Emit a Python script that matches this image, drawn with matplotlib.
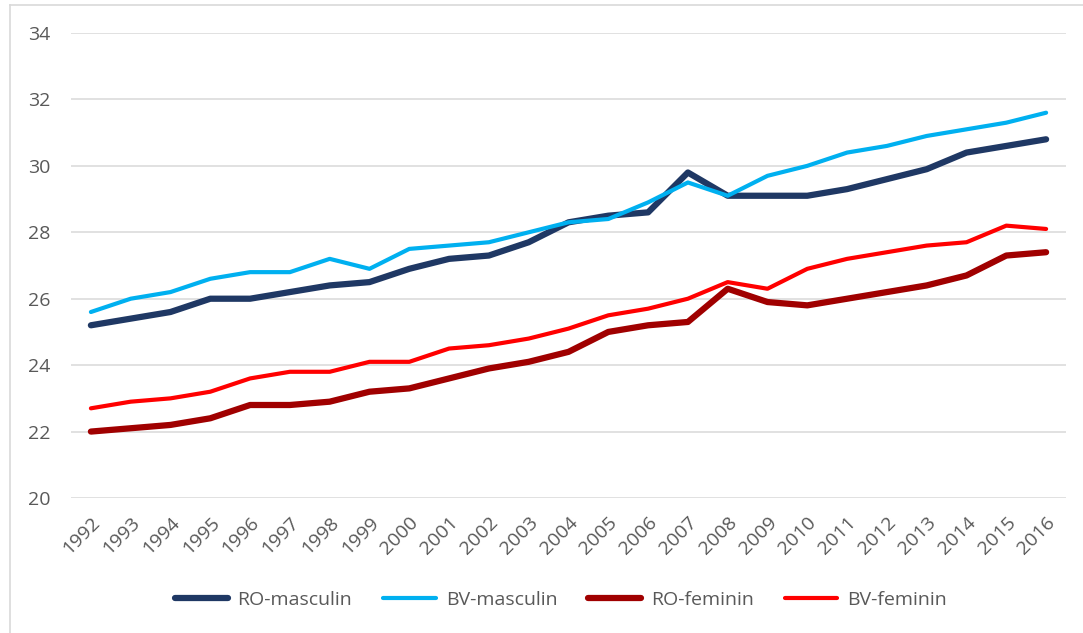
import matplotlib.pyplot as plt
from matplotlib.lines import Line2D

# date
ani = [str(a) for a in range(1992, 2017)]
ro_masculin = [25.2, 25.4, 25.6, 26.0, 26.0, 26.2, 26.4, 26.5, 26.9, 27.2, 27.3, 27.7, 28.3,
               28.5, 28.6, 29.8, 29.1, 29.1, 29.1, 29.3, 29.6, 29.9, 30.4, 30.6, 30.8]
bv_masculin = [25.6, 26.0, 26.2, 26.6, 26.8, 26.8, 27.2, 26.9, 27.5, 27.6, 27.7, 28.0, 28.3,
               28.4, 28.9, 29.5, 29.1, 29.7, 30.0, 30.4, 30.6, 30.9, 31.1, 31.3, 31.6]
ro_feminin = [22.0, 22.1, 22.2, 22.4, 22.8, 22.8, 22.9, 23.2, 23.3, 23.6, 23.9, 24.1, 24.4,
              25.0, 25.2, 25.3, 26.3, 25.9, 25.8, 26.0, 26.2, 26.4, 26.7, 27.3, 27.4]
bv_feminin = [22.7, 22.9, 23.0, 23.2, 23.6, 23.8, 23.8, 24.1, 24.1, 24.5, 24.6, 24.8, 25.1,
              25.5, 25.7, 26.0, 26.5, 26.3, 26.9, 27.2, 27.4, 27.6, 27.7, 28.2, 28.1]

plt.rcParams['font.family'] = ['Open Sans', 'DejaVu Sans']
gri = '#595959'
fs = 14

fig = plt.figure(figsize=(10.83, 6.33), dpi=100)
ax = fig.add_axes([71 / 1083, 1 - 498 / 633, (1066 - 71) / 1083, (498 - 33) / 633])

x = range(len(ani))
ax.plot(x, ro_masculin, color='#1F3864', lw=4.5, label='RO-masculin', solid_capstyle='round')
ax.plot(x, bv_masculin, color='#00B0F0', lw=3, label='BV-masculin', solid_capstyle='round')
ax.plot(x, ro_feminin, color='#A00000', lw=4.5, label='RO-feminin', solid_capstyle='round')
ax.plot(x, bv_feminin, color='#FF0000', lw=3, label='BV-feminin', solid_capstyle='round')

ax.set_xlim(-0.5, len(ani) - 0.5)
ax.set_ylim(20, 34)
ax.set_yticks(range(20, 35, 2))
ax.set_xticks(list(x))
ax.set_xticklabels(ani, rotation=45, ha='right', va='top', rotation_mode='anchor')
ax.tick_params(axis='both', length=0, colors=gri, labelsize=fs)
ax.tick_params(axis='y', pad=15)
ax.tick_params(axis='x', pad=11)
ax.grid(axis='y', color='#D9D9D9', lw=1.1)
ax.set_axisbelow(True)
for s in ax.spines.values():
    s.set_visible(False)

# chenar
fig.add_artist(Line2D([10 / 1083, 1], [1 - 5 / 633, 1 - 5 / 633], color='#D9D9D9', lw=1.2))
fig.add_artist(Line2D([10 / 1083, 10 / 1083], [0, 1 - 5 / 633], color='#D9D9D9', lw=1.2))

leg = fig.legend(loc='center', bbox_to_anchor=(561 / 1083, 1 - 600 / 633), ncol=4,
                 frameon=False, fontsize=fs, handlelength=2.7, handletextpad=0.5,
                 columnspacing=1.6)
for t in leg.get_texts():
    t.set_color(gri)

plt.savefig('out.png')
